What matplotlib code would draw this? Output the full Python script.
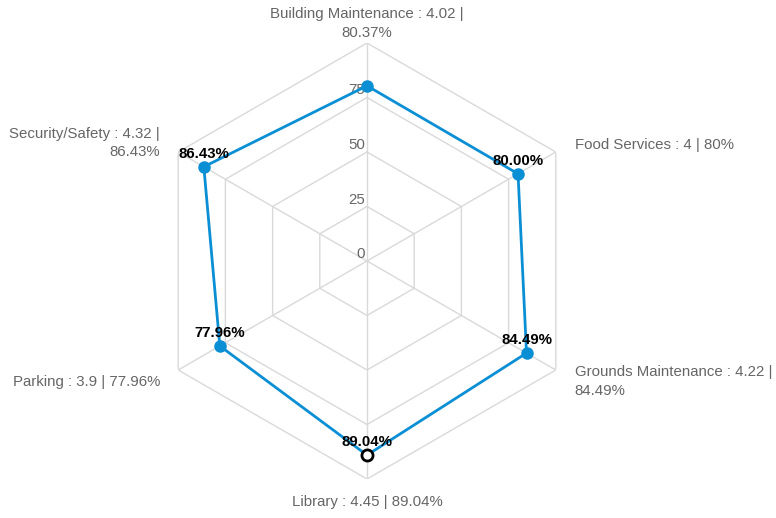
import matplotlib.pyplot as plt
import numpy as np

plt.rcParams['font.family'] = ['Liberation Sans', 'DejaVu Sans']

# survey results per service area
categories = ['Building Maintenance', 'Food Services', 'Grounds Maintenance',
              'Library', 'Parking', 'Security/Safety']
scores = [4.02, 4, 4.22, 4.45, 3.9, 4.32]
percents = [80.37, 80.00, 84.49, 89.04, 77.96, 86.43]
ring_ticks = [0, 25, 50, 75, 100]
highlight = 'Library'
# the top value label is hidden behind the ring labels in the original
hidden_labels = ['Building Maintenance']

line_color = '#0b8fd4'
grid_color = '#d9d9d9'
text_grey = '#666666'

n = len(categories)
angles = np.arange(n) * 2 * np.pi / n
closed = np.append(angles, angles[0])

fig = plt.figure(figsize=(7.76, 5.18), dpi=100)
ax = fig.add_axes([149 / 776, 39 / 518, 436 / 776, 436 / 518], projection='polar')
ax.set_theta_zero_location('N')
ax.set_theta_direction(-1)
ax.set_ylim(0, 100)
ax.grid(False)
ax.spines['polar'].set_visible(False)
ax.set_xticks([])
ax.set_yticks([])

# hexagon rings and spokes
for r in ring_ticks[1:]:
    ax.plot(closed, [r] * (n + 1), color=grid_color, lw=1, zorder=1)
for a in angles:
    ax.plot([a, a], [0, 100], color=grid_color, lw=1, zorder=1)

# ring value labels along the top spoke
for r in ring_ticks[:-1]:
    ax.annotate(str(r), (0, r), xytext=(-2, 0), textcoords='offset pixels',
                ha='right', va='bottom', fontsize=10.8, color=text_grey, zorder=2)

# series line
vals = np.append(percents, percents[0])
ax.plot(closed, vals, color=line_color, lw=2, zorder=3)
for a, p, c in zip(angles, percents, categories):
    if c == highlight:
        ax.plot(a, p, 'o', ms=8, mfc='white', mec='black', mew=2, zorder=5)
    else:
        ax.plot(a, p, 'o', ms=8, color=line_color, zorder=4)
    if c in hidden_labels:
        continue
    ax.annotate(f'{p:.2f}%', (a, p), xytext=(0, 6), textcoords='offset pixels',
                ha='center', va='bottom', fontsize=10.8, fontweight='bold',
                color='black', zorder=6)

# category labels around the outside
label_pos = [
    ((0, 3), 'center', 'bottom'),
    ((19, 7), 'left', 'center'),
    ((19, 5), 'left', 'top'),
    ((0, -16), 'center', 'top'),
    ((-18, -12), 'right', 'center'),
    ((-18, 9), 'right', 'center'),
]
for a, c, s, p, (off, ha, va) in zip(angles, categories, scores, percents, label_pos):
    sep = ' |\n' if len(c) > 14 else ' | '
    txt = f'{c} : {s:g}{sep}{p:g}%'
    ax.annotate(txt, (a, 100), xytext=off, textcoords='offset pixels',
                ha=ha, va=va, multialignment=ha, fontsize=10.8, color=text_grey,
                linespacing=1.42, annotation_clip=False)

fig.savefig('out.png', dpi=100)
